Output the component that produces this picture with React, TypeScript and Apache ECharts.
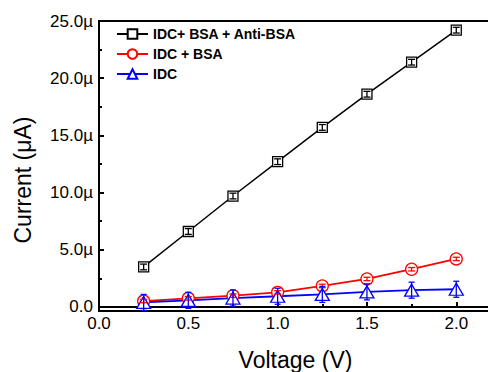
import React, { useEffect, useRef } from "react";
import * as echarts from "echarts";

const voltages = [0.25, 0.5, 0.75, 1.0, 1.25, 1.5, 1.75, 2.0];
const antiBsa = [3.5, 6.6, 9.7, 12.7, 15.7, 18.6, 21.4, 24.2];
const bsa = [0.52, 0.76, 0.99, 1.28, 1.84, 2.45, 3.3, 4.2];
const idc = [0.4, 0.58, 0.78, 0.94, 1.1, 1.32, 1.47, 1.55];
const antiBsaErr = [0.25, 0.25, 0.25, 0.25, 0.25, 0.25, 0.25, 0.25];
const bsaErr = [0.15, 0.15, 0.15, 0.15, 0.15, 0.15, 0.15, 0.15];
const idcErr = [0.7, 0.7, 0.7, 0.7, 0.7, 0.7, 0.7, 0.7];

const seriesNames = ["IDC+ BSA + Anti-BSA", "IDC + BSA", "IDC"];
const xMajorTicks = [0, 0.5, 1.0, 1.5, 2.0];
const xMinorTicks = [0.25, 0.75, 1.25, 1.75];
const yMajorTicks = [0, 5, 10, 15, 20, 25];
const yMinorTicks = [2.5, 7.5, 12.5, 17.5, 22.5];

const FONT = "Liberation Sans, Arial, sans-serif";

function errorSeries(vals: number[], errs: number[], color: string, hw: number, z: number) {
  return {
    type: "custom",
    z,
    silent: true,
    encode: { x: 0, y: 1 },
    data: voltages.map((v, i) => [v, vals[i], errs[i]]),
    renderItem: (params: any, api: any) => {
      const x = api.value(0);
      const y = api.value(1);
      const e = api.value(2);
      const t = api.coord([x, y + e]);
      const b = api.coord([x, y - e]);
      const style = { stroke: color, lineWidth: 1.3 };
      return {
        type: "group",
        children: [
          { type: "line", shape: { x1: t[0], y1: t[1], x2: b[0], y2: b[1] }, style },
          { type: "line", shape: { x1: t[0] - hw, y1: t[1], x2: t[0] + hw, y2: t[1] }, style },
          { type: "line", shape: { x1: b[0] - hw, y1: b[1], x2: b[0] + hw, y2: b[1] }, style },
        ],
      };
    },
  };
}

function lineSeries(name: string, vals: number[], color: string, symbol: string, size: any, width: number) {
  return {
    type: "line",
    name,
    data: voltages.map((v, i) => [v, vals[i]]),
    symbol,
    symbolSize: size,
    showAllSymbol: true,
    lineStyle: { color, width },
    itemStyle: { color: "#ffffff", borderColor: color, borderWidth: 1.3 },
    z: 3,
  };
}

export default function App() {
  const ref = useRef<HTMLDivElement>(null);
  useEffect(() => {
    document.body.style.margin = "0";
    const chart = echarts.init(ref.current!, null, { renderer: "svg" });
    const xMin = 0;
    const xMax = 2.2;
    const yMin = -0.35;
    const yMax = 25;
    chart.setOption({
      animation: false,
      backgroundColor: "#ffffff",
      grid: {
        left: 99,
        right: -4,
        top: 21,
        bottom: 61,
        outerBoundsMode: "none",
        containLabel: false,
        show: true,
        borderColor: "#000",
        borderWidth: 2,
        backgroundColor: "transparent",
      },
      legend: {
        orient: "vertical",
        left: 111,
        top: 22,
        padding: 5,
        itemWidth: 31,
        itemHeight: 12,
        itemGap: 6,
        data: seriesNames,
        textStyle: { fontFamily: FONT, fontWeight: "bold", fontSize: 14, lineHeight: 12, color: "#000" },
      },
      xAxis: [
        {
          type: "value",
          min: xMin,
          max: xMax,
          position: "bottom",
          name: "Voltage (V)",
          nameLocation: "middle",
          nameGap: 37,
          nameTextStyle: { fontFamily: FONT, fontSize: 23, color: "#000" },
          axisLine: { show: true, lineStyle: { color: "#000", width: 2 } },
          axisTick: { show: true, inside: true, length: 5, customValues: xMajorTicks, lineStyle: { color: "#000", width: 2 } },
          axisLabel: {
            customValues: xMajorTicks,
            margin: 4,
            fontFamily: FONT,
            fontSize: 17,
            color: "#000",
            formatter: (v: number) => v.toFixed(1),
          },
          splitLine: { show: false },
        },
        {
          type: "value",
          min: xMin,
          max: xMax,
          position: "bottom",
          axisLine: { show: false },
          axisTick: { show: true, inside: true, length: 3, customValues: xMinorTicks, lineStyle: { color: "#000", width: 2 } },
          axisLabel: { show: false },
          splitLine: { show: false },
        },
      ],
      yAxis: [
        {
          type: "value",
          min: yMin,
          max: yMax,
          position: "left",
          axisLine: { show: true, lineStyle: { color: "#000", width: 2 } },
          axisTick: { show: true, inside: true, length: 5, customValues: yMajorTicks, lineStyle: { color: "#000", width: 2 } },
          axisLabel: {
            customValues: yMajorTicks,
            margin: 6,
            fontFamily: FONT,
            fontSize: 17,
            color: "#000",
            formatter: (v: number) => (v === 0 ? "0.0" : v.toFixed(1) + "µ"),
          },
          splitLine: { show: false },
        },
        {
          type: "value",
          min: yMin,
          max: yMax,
          position: "left",
          axisLine: { show: false },
          axisTick: { show: true, inside: true, length: 3, customValues: yMinorTicks, lineStyle: { color: "#000", width: 2 } },
          axisLabel: { show: false },
          splitLine: { show: false },
        },
      ],
      graphic: [
        {
          type: "text",
          x: 23,
          y: 180,
          rotation: Math.PI / 2,
          style: {
            text: "Current (μA)",
            fontFamily: FONT,
            fontSize: 23,
            fill: "#000",
            align: "center",
            verticalAlign: "middle",
          },
        },
      ],
      series: [
        lineSeries(seriesNames[0], antiBsa, "#000000", "rect", 10, 1.5),
        lineSeries(seriesNames[1], bsa, "#ff0000", "circle", 12, 1.8),
        lineSeries(seriesNames[2], idc, "#0000ff", "triangle", [14, 12], 1.8),
        errorSeries(antiBsa, antiBsaErr, "#000000", 3.5, 5),
        errorSeries(bsa, bsaErr, "#ff0000", 3.5, 5),
        errorSeries(idc, idcErr, "#0000ff", 3, 5),
      ],
    });
    return () => chart.dispose();
  }, []);
  return <div ref={ref} style={{ width: 488, height: 372, position: "fixed", left: 0, top: 0 }} />;
}
